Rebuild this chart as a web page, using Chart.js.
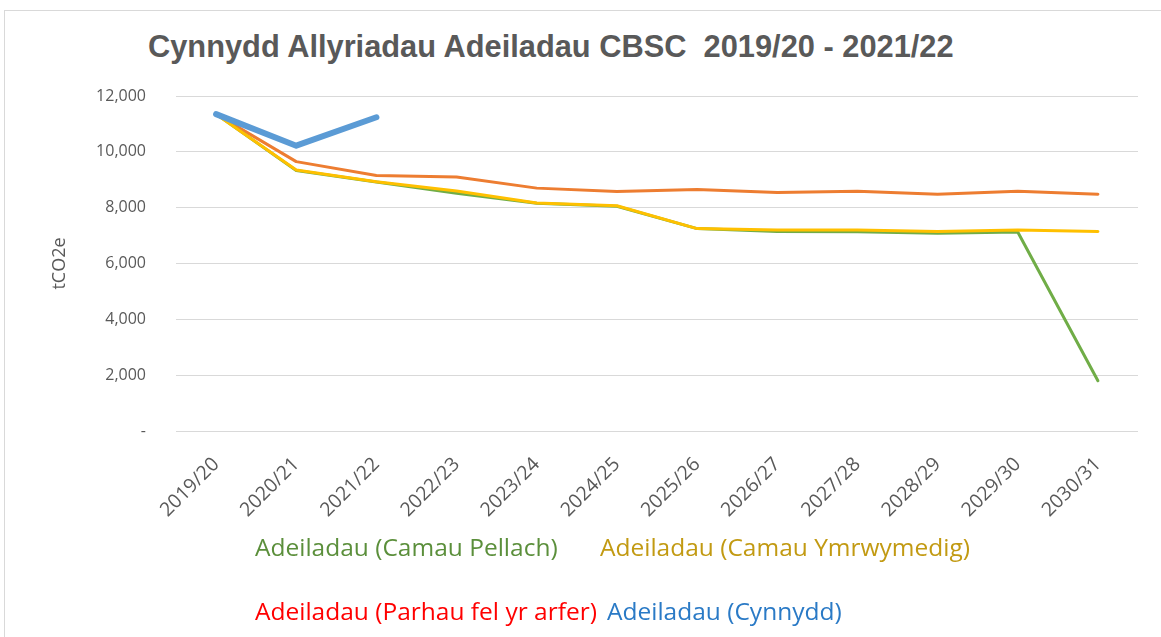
<!DOCTYPE html>
<html>
<head>
<meta charset="utf-8">
<script src="https://cdn.jsdelivr.net/npm/chart.js@4"></script>
<style>
  html, body { margin: 0; padding: 0; background: #fff; }
  body { width: 1161px; height: 637px; position: relative; overflow: hidden; }
  #frame { position: absolute; left: 4px; top: 10px; width: 1200px; height: 700px; border: 1px solid #d9d9d9; box-sizing: border-box; }
  #title { position: absolute; top: 29px; left: 148px; font: bold 30.8px "Liberation Sans", Arial, sans-serif; color: #595959; white-space: pre; line-height: 36px; }
  #wrap { position: absolute; left: 0; top: 0; width: 1161px; height: 637px; }
  .leg { position: absolute; font: 24.5px "Open Sans", sans-serif; white-space: nowrap; line-height: 1; }
</style>
</head>
<body>
<div id="frame"></div>
<div id="title">Cynnydd Allyriadau Adeiladau CBSC  2019/20 - 2021/22</div>
<div id="wrap"><canvas id="chart"></canvas></div>
<div id="legend"></div>
<script>
// DATA
const years = ["2019/20", "2020/21", "2021/22", "2022/23", "2023/24", "2024/25",
               "2025/26", "2026/27", "2027/28", "2028/29", "2029/30", "2030/31"];

const camauPellach     = [11350, 9330, 8920, 8520, 8160, 8050, 7250, 7150, 7140, 7080, 7130, 1800];
const camauYmrwymedig  = [11350, 9350, 8930, 8600, 8170, 8070, 7250, 7200, 7200, 7150, 7200, 7150];
const parhauFelYrArfer = [11350, 9650, 9150, 9100, 8700, 8580, 8650, 8540, 8590, 8480, 8590, 8480];
const cynnydd          = [11350, 10220, 11240, null, null, null, null, null, null, null, null, null];

const seriesNames = ["Adeiladau (Camau Pellach)", "Adeiladau (Camau Ymrwymedig)",
                     "Adeiladau (Parhau fel yr arfer)", "Adeiladau (Cynnydd)"];

// CHART
const datasets = [
    { label: seriesNames[0], data: camauPellach, borderColor: "#70ad47", borderWidth: 3, order: 2, textColor: "#5b8f3b" },
    { label: seriesNames[1], data: camauYmrwymedig, borderColor: "#ffc000", borderWidth: 3, order: 1, textColor: "#c29a12" },
    { label: seriesNames[2], data: parhauFelYrArfer, borderColor: "#ed7d31", borderWidth: 3, order: 3, textColor: "#ff0000" },
    { label: seriesNames[3], data: cynnydd, borderColor: "#5b9bd5", borderWidth: 6, order: 0, textColor: "#2a7ac6" }
];

datasets.forEach(d => {
    d.pointRadius = 0;
    d.tension = 0;
    d.fill = false;
    d.spanGaps = false;
    d.borderCapStyle = "round";
    d.borderJoinStyle = "round";
});

new Chart(document.getElementById("chart"), {
    type: "line",
    data: { labels: years, datasets },
    options: {
        responsive: true,
        maintainAspectRatio: false,
        animation: false,
        layout: { padding: { top: 96, right: 23, left: 0, bottom: 0 } },
        plugins: {
            legend: { display: false },
            tooltip: { enabled: false }
        },
        scales: {
            x: {
                offset: true,
                grid: { display: false, drawTicks: false },
                border: { display: false },
                ticks: {
                    color: "#595959",
                    font: { family: "Open Sans", size: 19.5 },
                    minRotation: 45,
                    maxRotation: 45,
                    padding: 22,
                    autoSkip: false
                },
                afterFit: scale => { scale.height = 206; }
            },
            y: {
                min: 0,
                max: 12000,
                grid: { color: "#d9d9d9", lineWidth: 1, drawTicks: false },
                border: { display: false },
                ticks: {
                    stepSize: 2000,
                    color: "#595959",
                    font: { family: "Open Sans", size: 16 },
                    padding: 30,
                    callback: v => v === 0 ? "-" : v.toLocaleString("en-US")
                },
                title: {
                    display: true,
                    text: "tCO2e",
                    color: "#595959",
                    font: { family: "Open Sans", size: 18 },
                    padding: { top: 49, bottom: 0 }
                },
                afterFit: scale => { scale.width = 176; }
            }
        }
    }
});

// LEGEND (text only, coloured like the series)
const legendSpots = [
    { left: 255, top: 535 },
    { left: 600, top: 535 },
    { left: 255, top: 599 },
    { left: 607, top: 599 }
];
const legend = document.getElementById("legend");
datasets.forEach((d, i) => {
    const el = document.createElement("div");
    el.className = "leg";
    el.textContent = d.label;
    el.style.color = d.textColor;
    el.style.left = legendSpots[i].left + "px";
    el.style.top = legendSpots[i].top + "px";
    legend.appendChild(el);
});
</script>
</body>
</html>
